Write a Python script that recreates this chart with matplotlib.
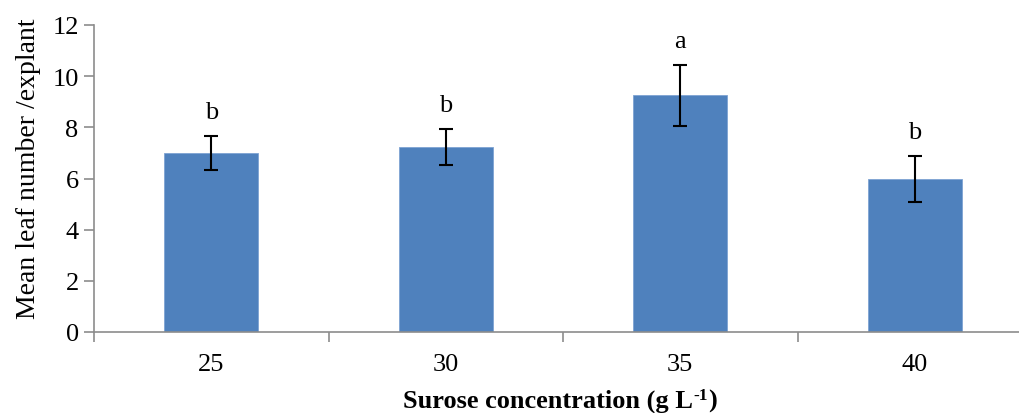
import numpy as np
import matplotlib.pyplot as plt

# sucrose levels (g/L) and mean leaf number per explant
categories = ['25', '30', '35', '40']
means = [7.0, 7.23, 9.25, 5.99]
errors = [0.65, 0.71, 1.19, 0.89]
letters = ['b', 'b', 'a', 'b']

plt.rcParams['font.family'] = ['Liberation Serif', 'DejaVu Serif']

fig = plt.figure(figsize=(10.19, 4.14), dpi=100)
ax = fig.add_axes([94 / 1019, 81 / 414, 938 / 1019, 307 / 414])

x = np.arange(len(categories))
axis_grey = '#8c8c8c'

ax.bar(x, means, width=0.4, color='#4f81bd', edgecolor='#7ea3d3', linewidth=0.6, zorder=2)
ax.errorbar(x, means, yerr=errors, fmt='none', ecolor='black', elinewidth=1.5,
            capsize=5, capthick=1.5, zorder=3)

for xi, m, e, lab in zip(x, means, errors, letters):
    ax.text(xi, m + e + 0.5, lab, ha='center', va='bottom', fontsize=19)

ax.set_xlim(-0.5, 3.5)
ax.set_ylim(0, 12)
ax.set_yticks(range(0, 13, 2))
ax.set_xticks(x)
ax.set_xticklabels(categories)
ax.set_xticks(np.arange(-0.5, 3.6, 1.0), minor=True)

ax.tick_params(axis='x', which='major', length=0, pad=15, labelsize=19)
ax.tick_params(axis='x', which='minor', length=7, width=1.2, color=axis_grey, direction='out')
ax.tick_params(axis='y', length=7, width=1.2, color=axis_grey, direction='out', labelsize=19, pad=4)

for side in ['top', 'right']:
    ax.spines[side].set_visible(False)
for side in ['left', 'bottom']:
    ax.spines[side].set_color(axis_grey)
    ax.spines[side].set_linewidth(1.2)

ax.set_ylabel('Mean leaf number /explant', fontsize=20)
ax.yaxis.set_label_coords(-0.057, 0.536)

# x label with a small raised "-1", built from three text pieces
renderer = fig.canvas.get_renderer()
parts = [('Surose concentration (g L', 19, 0), ('-1', 12.5, 8), (')', 19, 0)]
widths = []
for s, fs, _ in parts:
    t = fig.text(0, 0, s, fontsize=fs, fontweight='bold')
    widths.append(t.get_window_extent(renderer).width)
    t.remove()
x0 = 560 - sum(widths) / 2
base = 6
for (s, fs, rise), w in zip(parts, widths):
    fig.text(x0 / 1019, (base + rise) / 414, s, fontsize=fs, fontweight='bold',
             ha='left', va='baseline')
    x0 += w

fig.savefig('out.png', dpi=100)
